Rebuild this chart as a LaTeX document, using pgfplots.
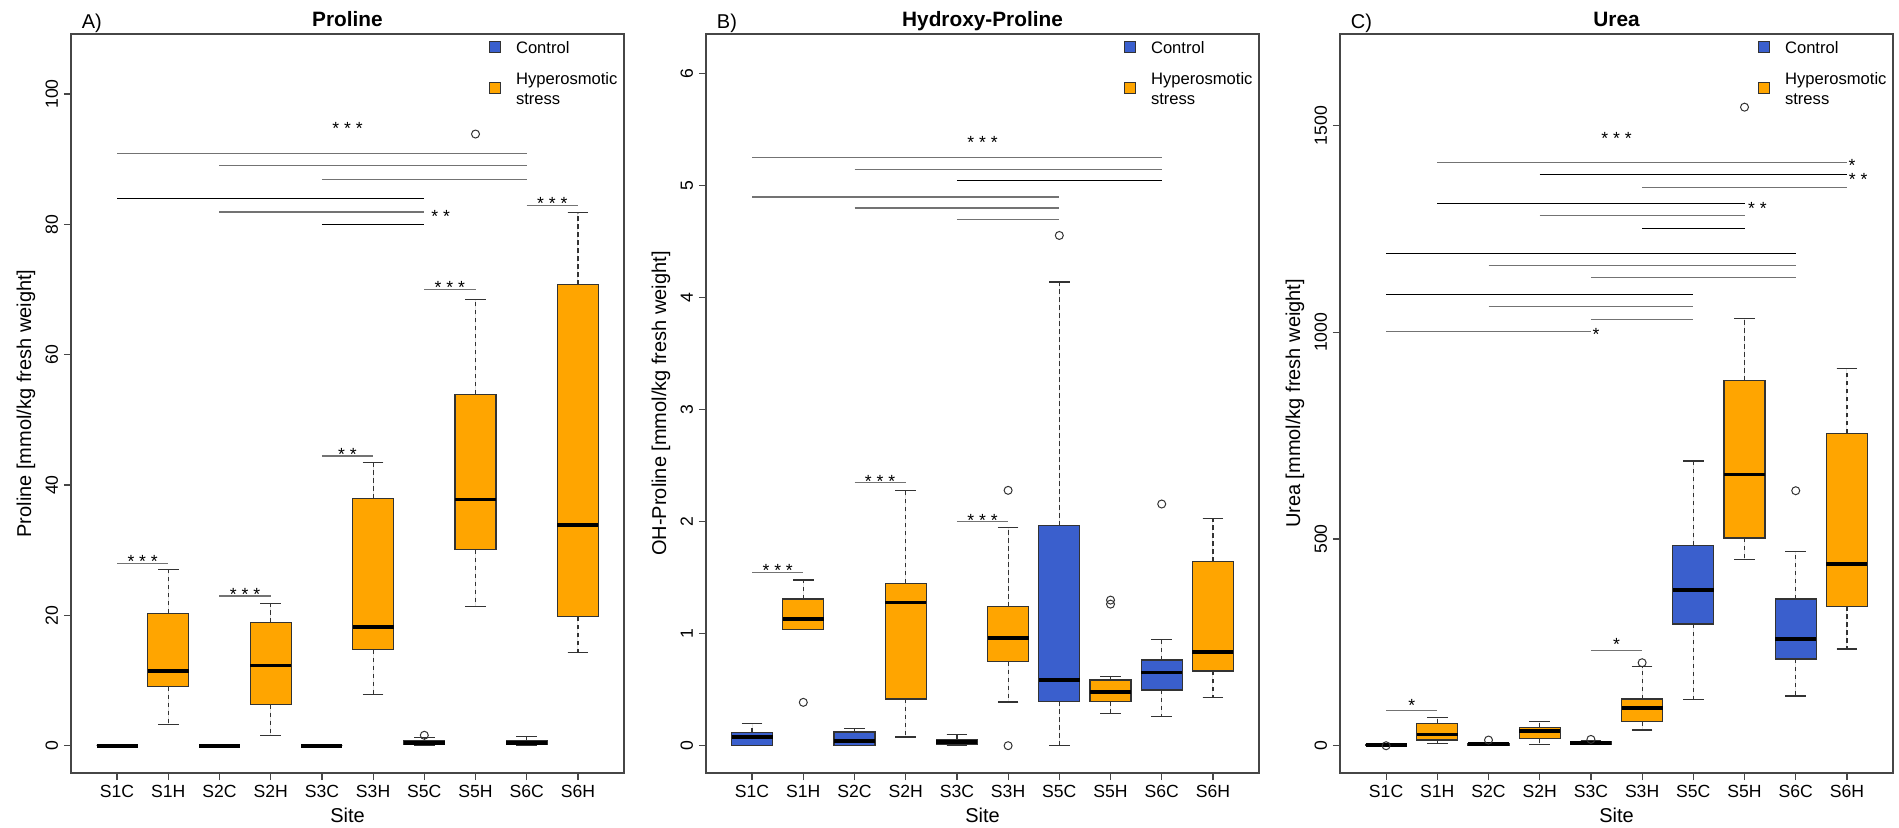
\documentclass[border=0pt]{standalone}
\usepackage{fontspec}
\setmainfont{Liberation Sans}
\usepackage{pgfplots}
\pgfplotsset{compat=1.18}
\usepgfplotslibrary{statistics}
\definecolor{cblue}{RGB}{58,95,205}
\definecolor{corange}{RGB}{255,165,0}
\definecolor{frm}{RGB}{70,70,70}
\pgfplotsset{
  boxplot/draw/lower whisker/.code={%
    \draw[black!80, line width=0.6pt, dash pattern=on 2.2pt off 1.8pt]
      (boxplot box cs:\pgfplotsboxplotvalue{lower quartile},0.5) -- (boxplot box cs:\pgfplotsboxplotvalue{lower whisker},0.5);
    \draw[black!80, line width=0.6pt]
      (boxplot whisker cs:\pgfplotsboxplotvalue{lower whisker},0) -- (boxplot whisker cs:\pgfplotsboxplotvalue{lower whisker},1);
  },
  boxplot/draw/upper whisker/.code={%
    \draw[black!80, line width=0.6pt, dash pattern=on 2.2pt off 1.8pt]
      (boxplot box cs:\pgfplotsboxplotvalue{upper quartile},0.5) -- (boxplot box cs:\pgfplotsboxplotvalue{upper whisker},0.5);
    \draw[black!80, line width=0.6pt]
      (boxplot whisker cs:\pgfplotsboxplotvalue{upper whisker},0) -- (boxplot whisker cs:\pgfplotsboxplotvalue{upper whisker},1);
  },
  rpanel/.style={
    scale only axis, width=276.5pt, height=369.5pt,
    anchor=south west,
    xmin=0.1, xmax=10.9,
    xtick={1,2,3,4,5,6,7,8,9,10},
    xticklabels={S1C,S1H,S2C,S2H,S3C,S3H,S5C,S5H,S6C,S6H},
    tick align=outside, major tick length=3.6pt,
    xtick pos=left, ytick pos=left,
    axis line style={frm, line width=0.6pt},
    tick style={frm, line width=0.6pt},
    ticklabel style={font=\fontsize{8.8}{10}\selectfont},
    xticklabel style={anchor=center, inner sep=0pt},
    xticklabel shift=5.6pt,
    yticklabel style={rotate=90, anchor=center, inner sep=0pt},
    yticklabel shift=6pt,
    label style={font=\fontsize{10}{12}\selectfont, inner sep=0pt},
    xlabel={Site},
    xlabel style={at={([yshift=-21pt]rel axis cs:0.5,0)}, anchor=center},
    ylabel style={at={([xshift=-22.5pt]rel axis cs:0,0.5)}, anchor=center},
    clip=false,
    /pgf/number format/assume math mode=true,
    /pgf/number format/set thousands separator={},
    boxplot/draw direction=y,
    boxplot/box extend=0.8,
    boxplot/whisker extend=0.4,
    boxplot/every median/.style={black, line width=1.8pt},
  },
  cb/.style={draw=black!80, fill=cblue, line width=0.6pt, mark=o, mark size=2pt, mark options={draw=black!80, line width=0.5pt, fill=none, solid}},
  ob/.style={draw=black!80, fill=corange, line width=0.6pt, mark=o, mark size=2pt, mark options={draw=black!80, line width=0.5pt, fill=none, solid}},
  gl/.style={black!55, line width=0.6pt},
  bl/.style={black, line width=0.5pt},
}
\tikzset{
  st/.style={font=\fontsize{8.8}{9}\selectfont, inner sep=0pt, anchor=base, yshift=-5.1pt},
  ttl/.style={font=\bfseries\fontsize{10.4}{12}\selectfont, inner sep=0pt, anchor=base},
  pnl/.style={font=\fontsize{10}{12}\selectfont, inner sep=0pt, anchor=base west},
  lg/.style={font=\fontsize{8.3}{10}\selectfont, inner sep=0pt, anchor=base west},
  sq/.style={draw=black!80, line width=0.5pt, minimum size=5.5pt, inner sep=0pt},
}
\newcommand{\legendbox}{%
  \node[sq, fill=cblue] at (rel axis cs:0.767,0.982) {};
  \node[lg] at (rel axis cs:0.804,0.974) {Control};
  \node[sq, fill=corange] at (rel axis cs:0.767,0.927) {};
  \node[lg] at (rel axis cs:0.804,0.932) {Hyperosmotic};
  \node[lg] at (rel axis cs:0.804,0.905) {stress};
}
\begin{document}
\begin{tikzpicture}
\useasboundingbox (0,0) rectangle (949.5pt,413.5pt);
% ---------------- A) Proline ----------------
\begin{axis}[rpanel, at={(35.5pt,27pt)},
  ymin=-4.19, ymax=109.2, ytick={0,20,40,60,80,100},
  ylabel={Proline [mmol/kg fresh weight]}]
\addplot[cb, boxplot prepared={draw position=1, lower whisker=0, lower quartile=0, median=0, upper quartile=0, upper whisker=0}] coordinates {};
\addplot[ob, boxplot prepared={draw position=2, lower whisker=3.2, lower quartile=9.05, median=11.5, upper quartile=20.3, upper whisker=27.05}] coordinates {};
\addplot[cb, boxplot prepared={draw position=3, lower whisker=0, lower quartile=0, median=0, upper quartile=0, upper whisker=0}] coordinates {};
\addplot[ob, boxplot prepared={draw position=4, lower whisker=1.6, lower quartile=6.3, median=12.3, upper quartile=18.9, upper whisker=21.8}] coordinates {};
\addplot[cb, boxplot prepared={draw position=5, lower whisker=0, lower quartile=0, median=0, upper quartile=0, upper whisker=0}] coordinates {};
\addplot[ob, boxplot prepared={draw position=6, lower whisker=7.8, lower quartile=14.7, median=18.2, upper quartile=37.9, upper whisker=43.4}] coordinates {};
\addplot[cb, boxplot prepared={draw position=7, lower whisker=0, lower quartile=0.2, median=0.45, upper quartile=0.75, upper whisker=1.2}] coordinates {(0,1.6)};
\addplot[ob, boxplot prepared={draw position=8, lower whisker=21.3, lower quartile=30.1, median=37.8, upper quartile=53.9, upper whisker=68.5}] coordinates {(0,93.85)};
\addplot[cb, boxplot prepared={draw position=9, lower whisker=0.05, lower quartile=0.15, median=0.4, upper quartile=0.85, upper whisker=1.4}] coordinates {};
\addplot[ob, boxplot prepared={draw position=10, lower whisker=14.3, lower quartile=19.8, median=33.9, upper quartile=70.75, upper whisker=81.8}] coordinates {};
% significance lines
\addplot[gl] coordinates {(1,90.9) (9,90.9)};
\addplot[gl] coordinates {(3,89.0) (9,89.0)};
\addplot[gl] coordinates {(5,86.9) (9,86.9)};
\addplot[bl] coordinates {(1,83.9) (7,83.9)};
\addplot[gl] coordinates {(3,81.9) (7,81.9)};
\addplot[bl] coordinates {(5,80.0) (7,80.0)};
\addplot[gl] coordinates {(1,28.0) (2,28.0)};
\addplot[gl] coordinates {(3,22.97) (4,22.97)};
\addplot[gl] coordinates {(5,44.45) (6,44.45)};
\addplot[gl] coordinates {(7,70.0) (8,70.0)};
\addplot[gl] coordinates {(9,82.9) (10,82.9)};
\node[st] at (axis cs:5.5,95.3) {* * *};
\node[st] at (axis cs:7.32,81.9) {* *};
\node[st] at (axis cs:1.5,28.85) {* * *};
\node[st] at (axis cs:3.5,23.9) {* * *};
\node[st] at (axis cs:5.5,45.4) {* *};
\node[st] at (axis cs:7.5,70.95) {* * *};
\node[st] at (axis cs:9.5,83.9) {* * *};
\legendbox
\node[ttl] at ([yshift=3.6pt]rel axis cs:0.5,1) {Proline};
\node[pnl] at ([yshift=2.8pt]rel axis cs:0.019,1) {A)};
\end{axis}
% ---------------- B) Hydroxy-Proline ----------------
\begin{axis}[rpanel, at={(353pt,27pt)},
  ymin=-0.244, ymax=6.355, ytick={0,1,2,3,4,5,6},
  ylabel={OH-Proline [mmol/kg fresh weight]}]
\addplot[cb, boxplot prepared={draw position=1, lower whisker=0, lower quartile=0.005, median=0.075, upper quartile=0.12, upper whisker=0.2}] coordinates {};
\addplot[ob, boxplot prepared={draw position=2, lower whisker=1.04, lower quartile=1.04, median=1.13, upper quartile=1.31, upper whisker=1.48}] coordinates {(0,0.387)};
\addplot[cb, boxplot prepared={draw position=3, lower whisker=0, lower quartile=0.005, median=0.042, upper quartile=0.122, upper whisker=0.15}] coordinates {};
\addplot[ob, boxplot prepared={draw position=4, lower whisker=0.078, lower quartile=0.417, median=1.28, upper quartile=1.45, upper whisker=2.28}] coordinates {};
\addplot[cb, boxplot prepared={draw position=5, lower whisker=0, lower quartile=0.01, median=0.033, upper quartile=0.057, upper whisker=0.098}] coordinates {};
\addplot[ob, boxplot prepared={draw position=6, lower whisker=0.39, lower quartile=0.75, median=0.963, upper quartile=1.24, upper whisker=1.95}] coordinates {(0,2.28) (0,0)};
\addplot[cb, boxplot prepared={draw position=7, lower whisker=0, lower quartile=0.396, median=0.586, upper quartile=1.963, upper whisker=4.14}] coordinates {(0,4.556)};
\addplot[ob, boxplot prepared={draw position=8, lower whisker=0.289, lower quartile=0.396, median=0.482, upper quartile=0.586, upper whisker=0.62}] coordinates {(0,1.264) (0,1.30)};
\addplot[cb, boxplot prepared={draw position=9, lower whisker=0.259, lower quartile=0.497, median=0.652, upper quartile=0.765, upper whisker=0.95}] coordinates {(0,2.158)};
\addplot[ob, boxplot prepared={draw position=10, lower whisker=0.432, lower quartile=0.667, median=0.839, upper quartile=1.643, upper whisker=2.03}] coordinates {};
\addplot[gl] coordinates {(1,5.249) (9,5.249)};
\addplot[gl] coordinates {(3,5.148) (9,5.148)};
\addplot[bl] coordinates {(5,5.047) (9,5.047)};
\addplot[gl] coordinates {(1,4.899) (7,4.899)};
\addplot[gl] coordinates {(3,4.801) (7,4.801)};
\addplot[gl] coordinates {(5,4.700) (7,4.700)};
\addplot[gl] coordinates {(1,1.548) (2,1.548)};
\addplot[gl] coordinates {(3,2.351) (4,2.351)};
\addplot[gl] coordinates {(5,2.0) (6,2.0)};
\node[st] at (axis cs:5.5,5.427) {* * *};
\node[st] at (axis cs:1.5,1.598) {* * *};
\node[st] at (axis cs:3.5,2.393) {* * *};
\node[st] at (axis cs:5.5,2.045) {* * *};
\legendbox
\node[ttl] at ([yshift=3.6pt]rel axis cs:0.5,1) {Hydroxy-Proline};
\node[pnl] at ([yshift=2.8pt]rel axis cs:0.019,1) {B)};
\end{axis}
% ---------------- C) Urea ----------------
\begin{axis}[rpanel, at={(670pt,27pt)},
  ymin=-66, ymax=1722, ytick={0,500,1000,1500},
  ylabel={Urea [mmol/kg fresh weight]}]
\addplot[cb, boxplot prepared={draw position=1, lower whisker=0, lower quartile=0.5, median=1.5, upper quartile=3, upper whisker=5}] coordinates {(0,0)};
\addplot[ob, boxplot prepared={draw position=2, lower whisker=5.6, lower quartile=13.7, median=27.4, upper quartile=54, upper whisker=67.7}] coordinates {};
\addplot[cb, boxplot prepared={draw position=3, lower whisker=0.5, lower quartile=1.5, median=3.5, upper quartile=6, upper whisker=8}] coordinates {(0,13.7)};
\addplot[ob, boxplot prepared={draw position=4, lower whisker=3.2, lower quartile=17, median=35.5, upper quartile=43.5, upper whisker=58.9}] coordinates {};
\addplot[cb, boxplot prepared={draw position=5, lower whisker=2.4, lower quartile=3.5, median=6.5, upper quartile=10.5, upper whisker=12}] coordinates {(0,15.3)};
\addplot[ob, boxplot prepared={draw position=6, lower whisker=38, lower quartile=58, median=92, upper quartile=113, upper whisker=191}] coordinates {(0,200.8)};
\addplot[cb, boxplot prepared={draw position=7, lower whisker=112, lower quartile=294.4, median=376.6, upper quartile=484.7, upper whisker=688.7}] coordinates {};
\addplot[ob, boxplot prepared={draw position=8, lower whisker=450.8, lower quartile=502.4, median=656.5, upper quartile=883, upper whisker=1033}] coordinates {(0,1545)};
\addplot[cb, boxplot prepared={draw position=9, lower whisker=120.2, lower quartile=209.7, median=258.9, upper quartile=354.8, upper whisker=469}] coordinates {(0,617)};
\addplot[ob, boxplot prepared={draw position=10, lower whisker=233.9, lower quartile=337, median=440.3, upper quartile=755.6, upper whisker=913}] coordinates {};
\addplot[gl] coordinates {(2,1411) (10,1411)};
\addplot[bl] coordinates {(4,1382) (10,1382)};
\addplot[gl] coordinates {(6,1351) (10,1351)};
\addplot[bl] coordinates {(2,1312.8) (8,1312.8)};
\addplot[gl] coordinates {(4,1282) (8,1282)};
\addplot[bl] coordinates {(6,1251.6) (8,1251.6)};
\addplot[bl] coordinates {(1,1191) (9,1191)};
\addplot[gl] coordinates {(3,1161) (9,1161)};
\addplot[gl] coordinates {(5,1132) (9,1132)};
\addplot[bl] coordinates {(1,1092) (7,1092)};
\addplot[gl] coordinates {(3,1062) (7,1062)};
\addplot[gl] coordinates {(5,1031) (7,1031)};
\addplot[gl] coordinates {(1,1001.5) (5,1001.5)};
\addplot[gl] coordinates {(1,84.7) (2,84.7)};
\addplot[gl] coordinates {(5,230.6) (6,230.6)};
\node[st] at (axis cs:5.5,1479) {* * *};
\node[st] at (axis cs:10.1,1415) {*};
\node[st] at (axis cs:10.22,1381) {* *};
\node[st] at (axis cs:8.25,1310) {* *};
\node[st] at (axis cs:5.1,1005) {*};
\node[st] at (axis cs:1.5,106.5) {*};
\node[st] at (axis cs:5.5,254) {*};
\legendbox
\node[ttl] at ([yshift=3.6pt]rel axis cs:0.5,1) {Urea};
\node[pnl] at ([yshift=2.8pt]rel axis cs:0.019,1) {C)};
\end{axis}
\end{tikzpicture}
\end{document}
